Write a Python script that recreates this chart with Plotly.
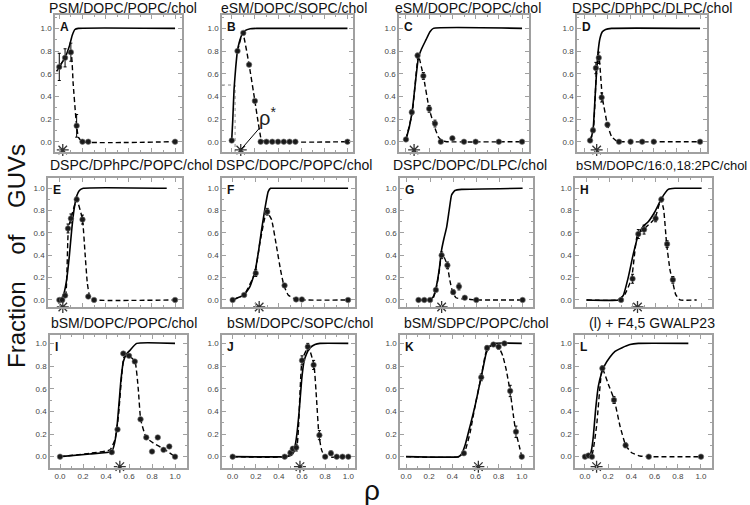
import plotly.graph_objects as go

W, H = 750, 505

# ---------------- data ----------------
# A  PSM/DOPC/POPC/chol
A_rho = [0, 0.05, 0.10, 0.15, 0.20, 0.25, 1.0]
A_frac = [0.66, 0.74, 0.79, 0.14, 0.0, 0.0, 0.0]
A_err = [0.12, 0.08, 0.08, 0.10, 0, 0, 0]
A_fit_x = [-0.023, 0.012, 0.049, 0.086, 0.112, 0.135, 0.164, 1.0]
A_fit_y = [0.62, 0.68, 0.74, 0.84, 0.94, 0.99, 1.0, 1.0]
A_dash_x = [0, 0.05, 0.10, 0.12, 0.145, 0.165, 0.20, 1.0]
A_dash_y = [0.66, 0.74, 0.79, 0.51, 0.19, 0.04, 0.0, 0.0]
A_star = 0.03

# B  eSM/DOPC/SOPC/chol
B_rho = [0, 0.05, 0.10, 0.15, 0.20, 0.25, 0.30, 0.35, 0.40, 0.45, 0.50, 0.55, 1.0]
B_frac = [0.01, 0.80, 0.96, 0.68, 0.36, 0, 0, 0, 0, 0, 0, 0, 0]
B_err = [0, 0, 0, 0.01, 0.01, 0, 0, 0, 0, 0, 0, 0, 0]
B_fit_x = [0, 0.009, 0.02, 0.035, 0.049, 0.066, 0.086, 0.115, 0.16, 0.216, 1.0]
B_fit_y = [0.015, 0.19, 0.46, 0.66, 0.80, 0.88, 0.94, 0.98, 0.997, 1.0, 1.0]
B_dash_x = [0.05, 0.095, 0.15, 0.20, 0.23, 0.245, 0.26, 1.0]
B_dash_y = [0.80, 0.96, 0.68, 0.36, 0.16, 0.07, 0.01, 0.0]
B_star = 0.078
B_rho_half = 0.029

# C  eSM/DOPC/POPC/chol
C_rho = [0, 0.05, 0.10, 0.15, 0.20, 0.25, 0.30, 0.40, 0.50, 0.60, 0.80, 1.0]
C_frac = [0.02, 0.26, 0.76, 0.58, 0.29, 0.16, 0.0, 0.03, 0.0, 0.0, 0.0, 0.0]
C_err = [0, 0.02, 0.02, 0.03, 0.03, 0.03, 0, 0.01, 0, 0, 0, 0]
C_fit_x = [0, 0.029, 0.055, 0.078, 0.107, 0.135, 0.173, 0.207, 0.236, 1.0]
C_fit_y = [0.02, 0.13, 0.28, 0.49, 0.74, 0.82, 0.90, 0.97, 1.0, 1.0]
C_dash_x = [0, 0.055, 0.107, 0.15, 0.20, 0.25, 0.28, 0.31, 0.35, 1.0]
C_dash_y = [0.02, 0.26, 0.76, 0.58, 0.29, 0.12, 0.04, 0.01, 0.0, 0.0]
C_star = 0.07

# D  DSPC/DPhPC/DLPC/chol
D_rho = [0.05, 0.075, 0.10, 0.125, 0.15, 0.20, 0.30, 0.40, 0.50, 0.60, 1.0]
D_frac = [0.01, 0.10, 0.65, 0.74, 0.39, 0.15, 0, 0, 0, 0, 0]
D_err = [0, 0.02, 0.05, 0.05, 0.04, 0.02, 0, 0, 0, 0, 0]
D_fit_x = [0.049, 0.063, 0.078, 0.092, 0.107, 0.121, 0.135, 0.156, 0.184, 0.236, 1.0]
D_fit_y = [0.0, 0.044, 0.13, 0.37, 0.63, 0.81, 0.91, 0.97, 0.99, 1.0, 1.0]
D_dash_x = [0.049, 0.078, 0.107, 0.127, 0.156, 0.20, 0.236, 0.28, 0.323, 1.0]
D_dash_y = [0.01, 0.10, 0.65, 0.75, 0.39, 0.15, 0.044, 0.006, 0.0, 0.0]
D_star = 0.107

# E  DSPC/DPhPC/POPC/chol
E_rho = [0, 0.025, 0.05, 0.075, 0.10, 0.15, 0.20, 0.25, 0.30, 1.0]
E_frac = [0, 0, 0.04, 0.64, 0.73, 0.90, 0.72, 0.03, 0.0, 0.0]
E_err = [0, 0, 0, 0.04, 0.04, 0.02, 0.04, 0, 0, 0]
E_fit_x = [0, 0.02, 0.04, 0.063, 0.086, 0.107, 0.127, 0.15, 0.173, 0.207, 0.928]
E_fit_y = [0, 0.015, 0.06, 0.18, 0.39, 0.63, 0.81, 0.93, 0.98, 1.0, 1.0]
E_dash_x = [0, 0.029, 0.055, 0.078, 0.10, 0.15, 0.20, 0.222, 0.242, 0.265, 0.30, 1.0]
E_dash_y = [0, 0, 0.04, 0.64, 0.73, 0.90, 0.72, 0.42, 0.15, 0.02, 0.0, 0.0]
E_star = 0.03

# F  DSPC/DOPC/POPC/chol
F_rho = [0, 0.10, 0.20, 0.30, 0.45, 0.55, 0.60, 1.0]
F_frac = [0, 0.045, 0.24, 0.79, 0.13, 0.005, 0.005, 0.0]
F_err = [0, 0, 0.03, 0.03, 0.01, 0, 0, 0]
F_fit_x = [0, 0.098, 0.15, 0.193, 0.222, 0.251, 0.28, 0.308, 0.329, 0.366, 1.0]
F_fit_y = [0, 0.045, 0.12, 0.25, 0.42, 0.63, 0.82, 0.97, 1.0, 1.0, 1.0]
F_dash_x = [0, 0.098, 0.193, 0.236, 0.294, 0.337, 0.38, 0.415, 0.444, 0.481, 0.548, 1.0]
F_dash_y = [0, 0.045, 0.24, 0.51, 0.79, 0.72, 0.48, 0.27, 0.13, 0.045, 0.005, 0.0]
F_star = 0.23

# G  DSPC/DOPC/DLPC/chol
G_rho = [0.10, 0.15, 0.20, 0.25, 0.30, 0.35, 0.40, 0.45, 0.50, 0.60, 1.0]
G_frac = [0, 0, 0, 0.09, 0.40, 0.31, 0.07, 0.12, 0.02, 0, 0]
G_err = [0, 0, 0, 0.01, 0.03, 0.03, 0.02, 0.03, 0, 0, 0]
G_fit_x = [0.098, 0.199, 0.228, 0.256, 0.28, 0.30, 0.32, 0.343, 0.366, 0.386, 0.415, 0.473, 1.0]
G_fit_y = [0, 0, 0.03, 0.13, 0.28, 0.45, 0.55, 0.65, 0.81, 0.94, 0.98, 0.99, 1.0]
G_dash_x = [0.098, 0.193, 0.228, 0.251, 0.28, 0.30, 0.323, 0.349, 0.372, 0.395, 0.424, 0.473, 0.501, 0.597, 1.0]
G_dash_y = [0, 0, 0.02, 0.09, 0.26, 0.41, 0.38, 0.31, 0.17, 0.07, 0.02, 0.01, 0.01, 0, 0]
G_star = 0.30

# H  bSM/DOPC/16:0,18:2PC/chol
H_rho = [0.30, 0.40, 0.45, 0.50, 0.60, 0.65, 0.70, 0.75]
H_frac = [0, 0.19, 0.59, 0.63, 0.73, 0.90, 0.50, 0.18]
H_err = [0, 0.04, 0.04, 0.04, 0.03, 0.02, 0.03, 0.03]
H_fit_x = [0, 0.275, 0.319, 0.362, 0.406, 0.449, 0.493, 0.536, 0.594, 0.652, 0.71, 0.768, 1.0]
H_fit_y = [0, 0, 0.04, 0.20, 0.41, 0.58, 0.66, 0.70, 0.79, 0.91, 0.99, 1.0, 1.0]
H_dash_x = [0, 0.275, 0.333, 0.391, 0.443, 0.493, 0.594, 0.646, 0.67, 0.696, 0.725, 0.745, 0.774, 0.812, 0.957]
H_dash_y = [0, 0, 0.05, 0.19, 0.59, 0.63, 0.73, 0.90, 0.81, 0.50, 0.27, 0.18, 0.05, 0, 0]
H_star = 0.443

# I  bSM/DOPC/POPC/chol
I_rho = [0, 0.45, 0.50, 0.55, 0.60, 0.65, 0.70, 0.75, 0.80, 0.85, 0.90, 0.95, 1.0]
I_frac = [0, 0.04, 0.24, 0.91, 0.89, 0.84, 0.33, 0.17, 0.045, 0.17, 0.06, 0.09, 0.0]
I_err = [0] * 13
I_fit_x = [0, 0.26, 0.449, 0.47, 0.493, 0.513, 0.53, 0.551, 0.574, 0.609, 0.667, 1.0]
I_fit_y = [0, 0.024, 0.044, 0.10, 0.24, 0.47, 0.68, 0.84, 0.90, 0.94, 1.0, 1.0]
I_dash_x = [0, 0.26, 0.435, 0.478, 0.507, 0.536, 0.557, 0.60, 0.652, 0.681, 0.701, 0.748, 0.812, 0.899, 1.0]
I_dash_y = [0, 0.03, 0.06, 0.15, 0.35, 0.71, 0.88, 0.89, 0.84, 0.59, 0.33, 0.17, 0.12, 0.07, 0]
I_star = 0.52

# J  bSM/DOPC/SOPC/chol
J_rho = [0, 0.45, 0.50, 0.52, 0.55, 0.60, 0.65, 0.70, 0.75, 0.80, 0.85, 0.90, 0.95, 1.0]
J_frac = [0, 0, 0.035, 0.07, 0.08, 0.85, 0.97, 0.81, 0.19, 0, 0.03, 0, 0, 0]
J_err = [0, 0, 0.02, 0.02, 0.03, 0.04, 0.03, 0.04, 0.04, 0, 0.02, 0, 0, 0]
J_fit_x = [0, 0.452, 0.51, 0.53, 0.553, 0.576, 0.597, 0.617, 0.64, 0.669, 0.712, 0.755, 1.0]
J_fit_y = [0, 0, 0.015, 0.044, 0.18, 0.41, 0.68, 0.84, 0.91, 0.96, 0.99, 1.0, 1.0]
J_dash_x = [0, 0.452, 0.496, 0.553, 0.582, 0.60, 0.654, 0.703, 0.726, 0.746, 0.769, 0.798, 1.0]
J_dash_y = [0, 0, 0.035, 0.08, 0.56, 0.85, 0.97, 0.81, 0.50, 0.19, 0.06, 0, 0]
J_star = 0.582

# K  bSM/SDPC/POPC/chol
K_rho = [0.50, 0.65, 0.70, 0.755, 0.80, 0.85, 0.90, 0.95, 1.0]
K_frac = [0.03, 0.70, 0.96, 0.99, 0.97, 1.0, 0.58, 0.22, 0.0]
K_err = [0, 0.03, 0.02, 0.01, 0.02, 0, 0.05, 0.05, 0]
K_fit_x = [0, 0.452, 0.481, 0.51, 0.553, 0.597, 0.64, 0.669, 0.692, 0.72, 0.769, 1.0]
K_fit_y = [0, 0, 0.024, 0.10, 0.27, 0.45, 0.66, 0.80, 0.91, 0.97, 1.0, 1.0]
K_dash_x = [0, 0.467, 0.51, 0.553, 0.597, 0.648, 0.683, 0.703, 0.755, 0.804, 0.836, 0.865, 0.899, 0.928, 0.948, 0.977, 1.0]
K_dash_y = [0, 0, 0.05, 0.21, 0.45, 0.70, 0.89, 0.96, 0.99, 0.96, 0.89, 0.77, 0.58, 0.36, 0.22, 0.10, 0]
K_star = 0.625

# L  (l) + F4,5 GWALP23
L_rho = [0, 0.03, 0.06, 0.15, 0.25, 0.35, 0.55, 1.0]
L_frac = [0, 0.01, 0, 0.78, 0.50, 0.10, 0, 0]
L_err = [0, 0, 0, 0.02, 0.03, 0.02, 0, 0]
L_fit_x = [0, 0.043, 0.057, 0.072, 0.092, 0.115, 0.144, 0.172, 0.216, 0.259, 0.316, 0.388, 0.46, 0.891]
L_fit_y = [0, 0.01, 0.065, 0.18, 0.42, 0.62, 0.74, 0.81, 0.88, 0.93, 0.96, 0.99, 1.0, 1.0]
L_dash_x = [0, 0.057, 0.10, 0.149, 0.201, 0.253, 0.302, 0.351, 0.402, 0.474, 0.546, 1.0]
L_dash_y = [0, 0.006, 0.27, 0.78, 0.64, 0.50, 0.27, 0.10, 0.035, 0.006, 0, 0]
L_star = 0.10

TITLES = ["PSM/DOPC/POPC/chol", "eSM/DOPC/SOPC/chol", "eSM/DOPC/POPC/chol", "DSPC/DPhPC/DLPC/chol",
          "DSPC/DPhPC/POPC/chol", "DSPC/DOPC/POPC/chol", "DSPC/DOPC/DLPC/chol", "bSM/DOPC/16:0,18:2PC/chol",
          "bSM/DOPC/POPC/chol", "bSM/DOPC/SOPC/chol", "bSM/SDPC/POPC/chol", "(l) + F4,5 GWALP23"]
LETTERS = ["A", "B", "C", "D", "E", "F", "G", "H", "I", "J", "K", "L"]
X_TICKS = [0.0, 0.2, 0.4, 0.6, 0.8, 1.0]
Y_TICKS = [0.0, 0.2, 0.4, 0.6, 0.8, 1.0]

PANELS = [
    (A_rho, A_frac, A_err, A_fit_x, A_fit_y, A_dash_x, A_dash_y, A_star),
    (B_rho, B_frac, B_err, B_fit_x, B_fit_y, B_dash_x, B_dash_y, B_star),
    (C_rho, C_frac, C_err, C_fit_x, C_fit_y, C_dash_x, C_dash_y, C_star),
    (D_rho, D_frac, D_err, D_fit_x, D_fit_y, D_dash_x, D_dash_y, D_star),
    (E_rho, E_frac, E_err, E_fit_x, E_fit_y, E_dash_x, E_dash_y, E_star),
    (F_rho, F_frac, F_err, F_fit_x, F_fit_y, F_dash_x, F_dash_y, F_star),
    (G_rho, G_frac, G_err, G_fit_x, G_fit_y, G_dash_x, G_dash_y, G_star),
    (H_rho, H_frac, H_err, H_fit_x, H_fit_y, H_dash_x, H_dash_y, H_star),
    (I_rho, I_frac, I_err, I_fit_x, I_fit_y, I_dash_x, I_dash_y, I_star),
    (J_rho, J_frac, J_err, J_fit_x, J_fit_y, J_dash_x, J_dash_y, J_star),
    (K_rho, K_frac, K_err, K_fit_x, K_fit_y, K_dash_x, K_dash_y, K_star),
    (L_rho, L_frac, L_err, L_fit_x, L_fit_y, L_dash_x, L_dash_y, L_star),
]

# ---------------- layout geometry (pixels) ----------------
BOXES = [(55, 182, 15, 152), (222, 353, 15, 152), (399, 529, 15, 152), (577, 707, 15, 152),
         (48, 182, 178, 307), (222, 355, 178, 307), (400, 533, 178, 307), (575, 712, 178, 307),
         (50, 187, 335, 468), (222, 355, 335, 468), (400, 533, 335, 468), (575, 712, 335, 468)]
XRANGES = [(-0.037, 1.06), (-0.084, 1.048), (-0.06, 1.06), (-0.063, 1.06),
           (-0.098, 1.06), (-0.092, 1.06), (-0.06, 1.09), (-0.10, 1.09),
           (-0.087, 1.104), (-0.092, 1.058), (-0.052, 1.097), (-0.086, 1.095)]
YRANGES = [(-0.091, 1.118), (-0.063, 1.092), (-0.10, 1.074)]
STAR_Y = [-0.073, -0.063, -0.088]
TITLE_X = [123, 294, 468, 652, 131, 294, 470, 661, 124, 300, 476, 652]
TITLE_SIZE = [14, 14, 14, 14, 14, 14, 14, 13, 14, 14, 14, 14]
TITLE_Y = [8, 165, 323]

FONT = "Liberation Sans, Arial, sans-serif"
AX = "#a0a0a0"

fig = go.Figure()
layout = dict(width=W, height=H, margin=dict(l=0, r=0, t=0, b=0),
              paper_bgcolor="white", plot_bgcolor="white", showlegend=False,
              font=dict(family=FONT, color="#222"))
annotations = []

for i, (rho, frac, err, fx, fy, dx, dy, star) in enumerate(PANELS):
    n = "" if i == 0 else str(i + 1)
    row = i // 4
    l, r, t, b = BOXES[i]
    xa = dict(domain=[l / W, r / W], range=list(XRANGES[i]), anchor="y" + n,
              showline=True, mirror="ticks", linecolor=AX, linewidth=1.5,
              ticks="inside", ticklen=4, tickwidth=1, tickcolor=AX,
              tickvals=X_TICKS, tickformat=".1f", showgrid=False, zeroline=False,
              showticklabels=(row == 2), tickfont=dict(size=8, color="#444", family=FONT),
              minor=dict(ticks="inside", ticklen=2, dtick=0.1, tick0=0, tickcolor=AX))
    ya = dict(domain=[1 - b / H, 1 - t / H], range=list(YRANGES[row]), anchor="x" + n,
              showline=True, mirror="ticks", linecolor=AX, linewidth=1.5,
              ticks="inside", ticklen=4, tickwidth=1, tickcolor=AX,
              tickvals=Y_TICKS, tickformat=".1f",
              showgrid=False, zeroline=False,
              tickfont=dict(size=8, color="#444", family=FONT),
              minor=dict(ticks="inside", ticklen=2, dtick=0.1, tick0=0, tickcolor=AX))
    layout["xaxis" + n] = xa
    layout["yaxis" + n] = ya
    xr, yr = "x" + n, "y" + n

    if i == 1:
        # rho* construction lines in B
        fig.add_trace(go.Scatter(x=[XRANGES[1][0], B_rho_half, B_rho_half], y=[0.5, 0.5, -0.09],
                                 mode="lines", line=dict(color="#888", width=1, dash="dot"),
                                 xaxis=xr, yaxis=yr, hoverinfo="skip"))
    fig.add_trace(go.Scatter(x=fx, y=fy, mode="lines",
                             line=dict(color="black", width=1.6, shape="spline", smoothing=0.4),
                             xaxis=xr, yaxis=yr, hoverinfo="skip"))
    fig.add_trace(go.Scatter(x=dx, y=dy, mode="lines",
                             line=dict(color="black", width=1.4, dash="5px,3px", shape="spline", smoothing=0.4),
                             xaxis=xr, yaxis=yr, hoverinfo="skip"))
    fig.add_trace(go.Scatter(x=rho, y=frac, mode="markers",
                             marker=dict(size=5.5, color="#1a1a1a", line=dict(color="#777", width=0.6)),
                             error_y=dict(type="data", array=err, visible=True, color="black", thickness=1, width=1.5),
                             xaxis=xr, yaxis=yr))
    fig.add_trace(go.Scatter(x=[star], y=[STAR_Y[row]], mode="markers", cliponaxis=False,
                             marker=dict(symbol="asterisk-open", size=10, color="#333",
                                         line=dict(color="#333", width=1.3)),
                             xaxis=xr, yaxis=yr, hoverinfo="skip"))
    if i == 1:
        fig.add_trace(go.Scatter(x=[0.24, B_star + 0.005], y=[0.12, -0.065], mode="lines",
                                 line=dict(color="black", width=1), xaxis=xr, yaxis=yr, hoverinfo="skip"))
        annotations.append(dict(x=0.31, y=0.22, xref=xr, yref=yr, text="ρ<sup>*</sup>", showarrow=False,
                                font=dict(size=20, color="#222", family=FONT)))

    annotations.append(dict(x=TITLE_X[i] / W, y=1 - TITLE_Y[row] / H, xref="paper", yref="paper",
                            text=TITLES[i], showarrow=False, xanchor="center", yanchor="middle",
                            font=dict(size=TITLE_SIZE[i], color="#111", family=FONT)))
    annotations.append(dict(x=(l + 3) / W, y=1 - (t + 12) / H, xref="paper", yref="paper",
                            text="<b>%s</b>" % LETTERS[i], showarrow=False, xanchor="left", yanchor="middle",
                            font=dict(size=12, color="#111", family=FONT)))

annotations.append(dict(x=16 / W, y=1 - 256 / H, xref="paper", yref="paper",
                        text="Fraction\u00a0\u00a0\u00a0\u00a0of\u00a0\u00a0\u00a0\u00a0GUVs", textangle=-90,
                        showarrow=False, xanchor="center", yanchor="middle",
                        font=dict(size=24, color="#111", family=FONT)))
annotations.append(dict(x=372 / W, y=1 - 490 / H, xref="paper", yref="paper", text="ρ",
                        showarrow=False, xanchor="center", yanchor="middle",
                        font=dict(size=28, color="#111", family=FONT)))
layout["annotations"] = annotations
fig.update_layout(**layout)
fig.write_html("out.html", config={"displayModeBar": False},
               post_script="document.body.style.margin='0';document.body.style.overflow='hidden';")
